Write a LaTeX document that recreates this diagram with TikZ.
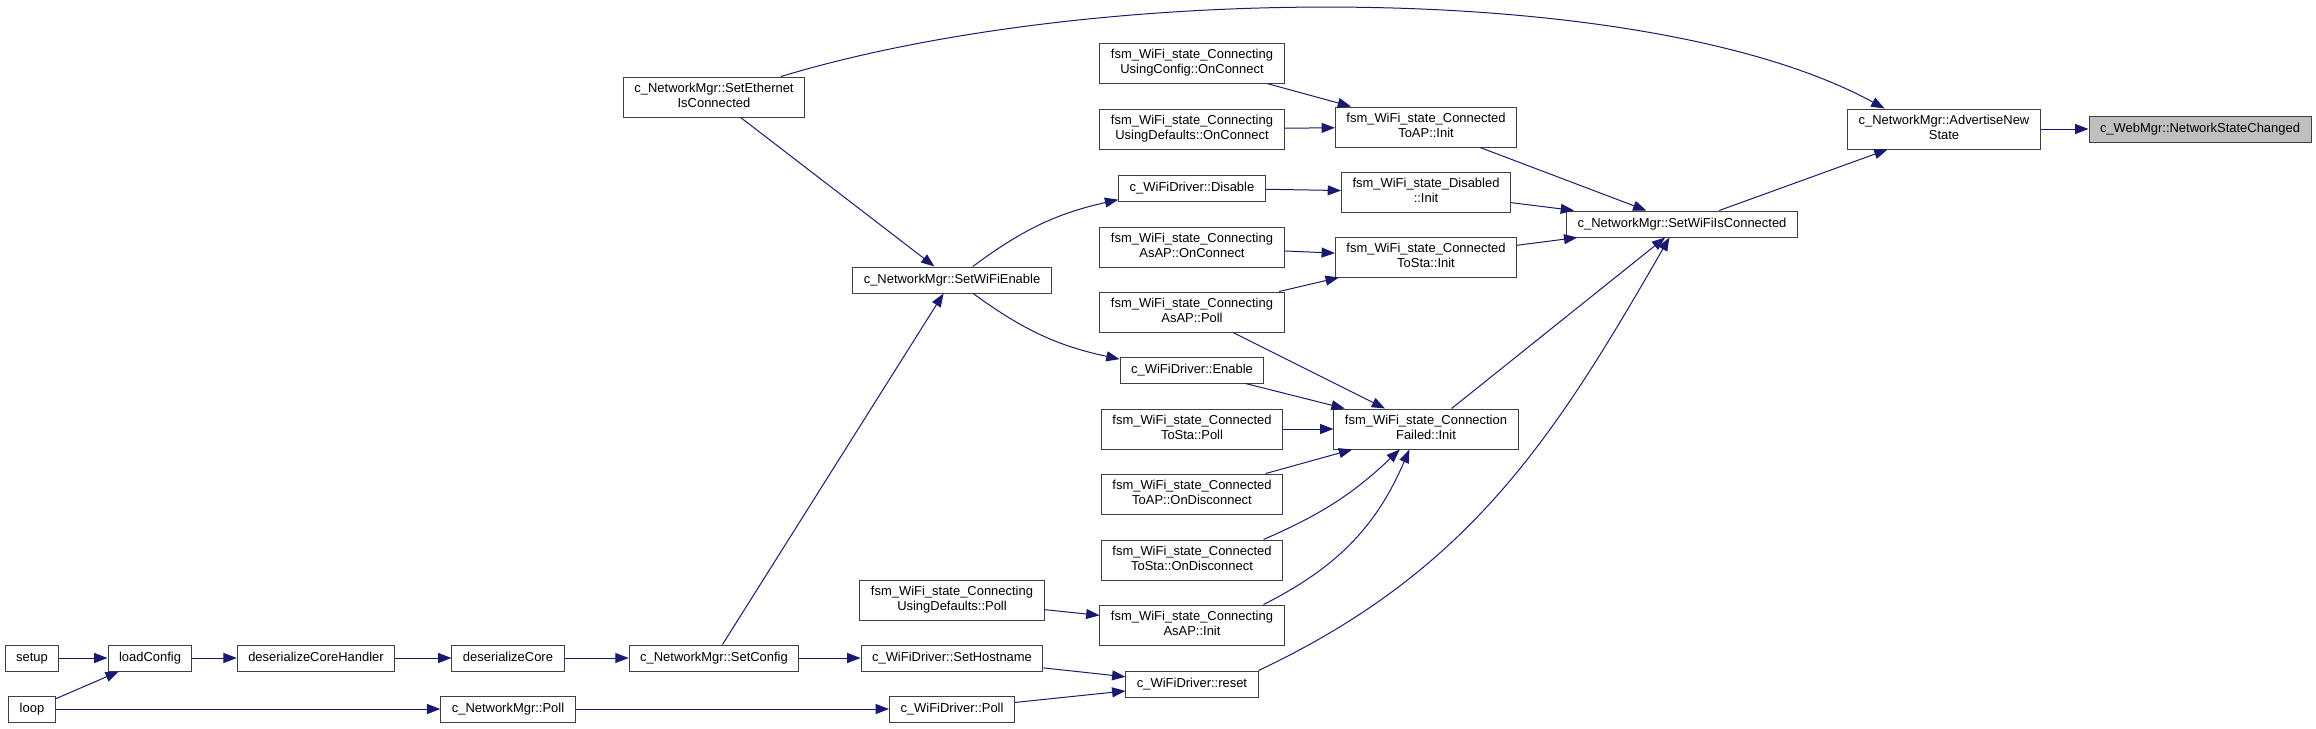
\documentclass[tikz,border=0pt]{standalone}
\usepackage{fontspec}
\setmainfont{Liberation Sans}
\usetikzlibrary{arrows.meta}
\definecolor{edgeblue}{HTML}{191970}
\definecolor{focusgrey}{HTML}{BFBFBF}
\newcommand{\fnlines}[1]{\begin{tabular}{@{}c@{}}#1\end{tabular}}
\tikzset{
  fn/.style={draw=black!75,fill=white,line width=.75pt,
    inner xsep=8.25pt,inner ysep=1pt,minimum height=19.5pt,
    font=\fontsize{9.72}{11.25}\selectfont},
  fntwo/.style={fn,minimum height=30pt},
  fnfocus/.style={fn,fill=focusgrey},
  calls/.style={draw=edgeblue,line width=.75pt,-{Triangle[length=10pt,width=7.5pt]}}
}
\begin{document}
\begin{tikzpicture}[x=.75pt,y=-.75pt]
   \useasboundingbox (0,0) rectangle (2316,728);
   \foreach \nm/\st/\px/\py/\tx in
     { setup/fn/32/658/setup,
       loop/fn/32/709/loop,
       loadcfg/fn/150/658/loadConfig,
       deshandler/fn/316/658/deserializeCoreHandler,
       descore/fn/508/658/deserializeCore,
       mgrpoll/fn/508/709/c\_NetworkMgr::Poll,
       setconfig/fn/714/658/c\_NetworkMgr::SetConfig,
       ethconn/fntwo/714/97/c\_NetworkMgr::SetEthernet\\IsConnected,
       wifien/fn/952/280/c\_NetworkMgr::SetWiFiEnable,
       hostname/fn/952/658/c\_WiFiDriver::SetHostname,
       drvpoll/fn/952/709/c\_WiFiDriver::Poll,
       defpoll/fntwo/952/600/fsm\_WiFi\_state\_Connecting\\UsingDefaults::Poll,
       cfgconnect/fntwo/1192/63/fsm\_WiFi\_state\_Connecting\\UsingConfig::OnConnect,
       defconnect/fntwo/1192/129/fsm\_WiFi\_state\_Connecting\\UsingDefaults::OnConnect,
       disable/fn/1192/188/c\_WiFiDriver::Disable,
       apconnect/fntwo/1192/247/fsm\_WiFi\_state\_Connecting\\AsAP::OnConnect,
       appoll/fntwo/1192/312/fsm\_WiFi\_state\_Connecting\\AsAP::Poll,
       enable/fn/1192/370/c\_WiFiDriver::Enable,
       stapoll/fntwo/1192/429/fsm\_WiFi\_state\_Connected\\ToSta::Poll,
       apdisc/fntwo/1192/494/fsm\_WiFi\_state\_Connected\\ToAP::OnDisconnect,
       stadisc/fntwo/1192/560/fsm\_WiFi\_state\_Connected\\ToSta::OnDisconnect,
       apinit/fntwo/1192/625/fsm\_WiFi\_state\_Connecting\\AsAP::Init,
       reset/fn/1192/684/c\_WiFiDriver::reset,
       toapinit/fntwo/1426/127/fsm\_WiFi\_state\_Connected\\ToAP::Init,
       disinit/fntwo/1426/192/fsm\_WiFi\_state\_Disabled\\::Init,
       tostainit/fntwo/1426/257/fsm\_WiFi\_state\_Connected\\ToSta::Init,
       failinit/fntwo/1426/429/fsm\_WiFi\_state\_Connection\\Failed::Init,
       wificonn/fn/1682/224/c\_NetworkMgr::SetWiFiIsConnected,
       advertise/fntwo/1944/129/c\_NetworkMgr::AdvertiseNew\\State,
       statechg/fnfocus/2200/129/c\_WebMgr::NetworkStateChanged
     }
     \node[\st] (\nm) at (\px,\py) {\fnlines{\tx}};
   \foreach \a/\b in
     {setup/loadcfg, loop/loadcfg, loadcfg/deshandler, deshandler/descore,
      descore/setconfig, loop/mgrpoll, mgrpoll/drvpoll, setconfig/wifien,
      setconfig/hostname, ethconn/wifien, hostname/reset, drvpoll/reset,
      defpoll/apinit, cfgconnect/toapinit, defconnect/toapinit, disable/disinit,
      apconnect/tostainit, appoll/tostainit, appoll/failinit, enable/failinit,
      stapoll/failinit, apdisc/failinit, toapinit/wificonn, disinit/wificonn,
      tostainit/wificonn, failinit/wificonn, wificonn/advertise, advertise/statechg}
     \draw[calls] (\a) -- (\b);
   \draw[calls] (ethconn.17) .. controls (1100,-20) and (1650,-20) .. (advertise.161);
   \draw[calls] (wifien) to[bend left=12] (disable);
   \draw[calls] (wifien) to[bend right=12] (enable);
   \draw[calls] (stadisc.16) to[bend right=10] (failinit.218);
   \draw[calls] (apinit.16) to[bend right=20] (failinit.231);
   \draw[calls] (reset.north east) .. controls (1469,571) and (1553,440) .. (wificonn.227);
\end{tikzpicture}
\end{document}
